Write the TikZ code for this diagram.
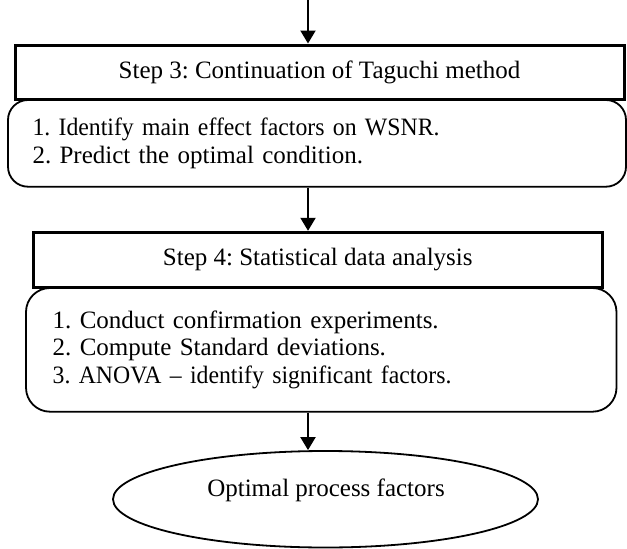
\documentclass[tikz,border=0pt]{standalone}
\usepackage{fontspec}
\setmainfont{Liberation Serif}
\newfontfamily\narrowfont[FakeStretch=0.95,Ligatures=TeX]{Liberation Serif}
\usetikzlibrary{arrows.meta,shapes.geometric}
\frenchspacing
\begin{document}
\begin{tikzpicture}[x=1pt,y=-1pt,
  font=\fontsize{25}{27.3}\selectfont,
  stepbox/.style={draw,line width=3pt,rectangle,inner sep=0pt},
  listbox/.style={draw,line width=1.8pt,rectangle,inner ysep=0pt,align=left},
  conn/.style={line width=2pt,-{Triangle[length=13pt,width=15pt]}}]
\useasboundingbox (0,0) rectangle (627,549);
\coordinate (top) at (308,0);
\node[stepbox,minimum width=609pt,minimum height=54pt] (s3) at (319.5,72) {Step 3: Continuation of Taguchi method};
\node[listbox,rounded corners=20pt,text width=569pt,inner xsep=24.5pt,minimum height=86.7pt] (l3) at (317,143.35)
  {{\narrowfont 1. Identify main effect factors on WSNR.}\\2. Predict the optimal condition.};
\node[stepbox,minimum width=568.5pt,minimum height=54.7pt] (s4) at (317.75,259.65) {Step 4: Statistical data analysis};
\node[listbox,rounded corners=24pt,text width=537.1pt,inner xsep=26.7pt,minimum height=123.7pt] (l4) at (321.25,349.85)
  {1. Conduct confirmation experiments.\\2. Compute Standard deviations.\\{\narrowfont 3. ANOVA – identify significant factors.}};
\node[draw,ellipse,line width=1.8pt,minimum width=425pt,minimum height=96.5pt,inner sep=0pt] (e) at (325.5,499.25) {};
\node[anchor=base,inner sep=0pt] (et) at (326,496) {Optimal process factors};
\draw[conn] (top) -- (top |- s3.north);
\draw[conn] (l3.south -| top) -- (s4.north -| top);
\draw[conn] (l4.south -| top) -- (e.north -| top);
\end{tikzpicture}
\end{document}
